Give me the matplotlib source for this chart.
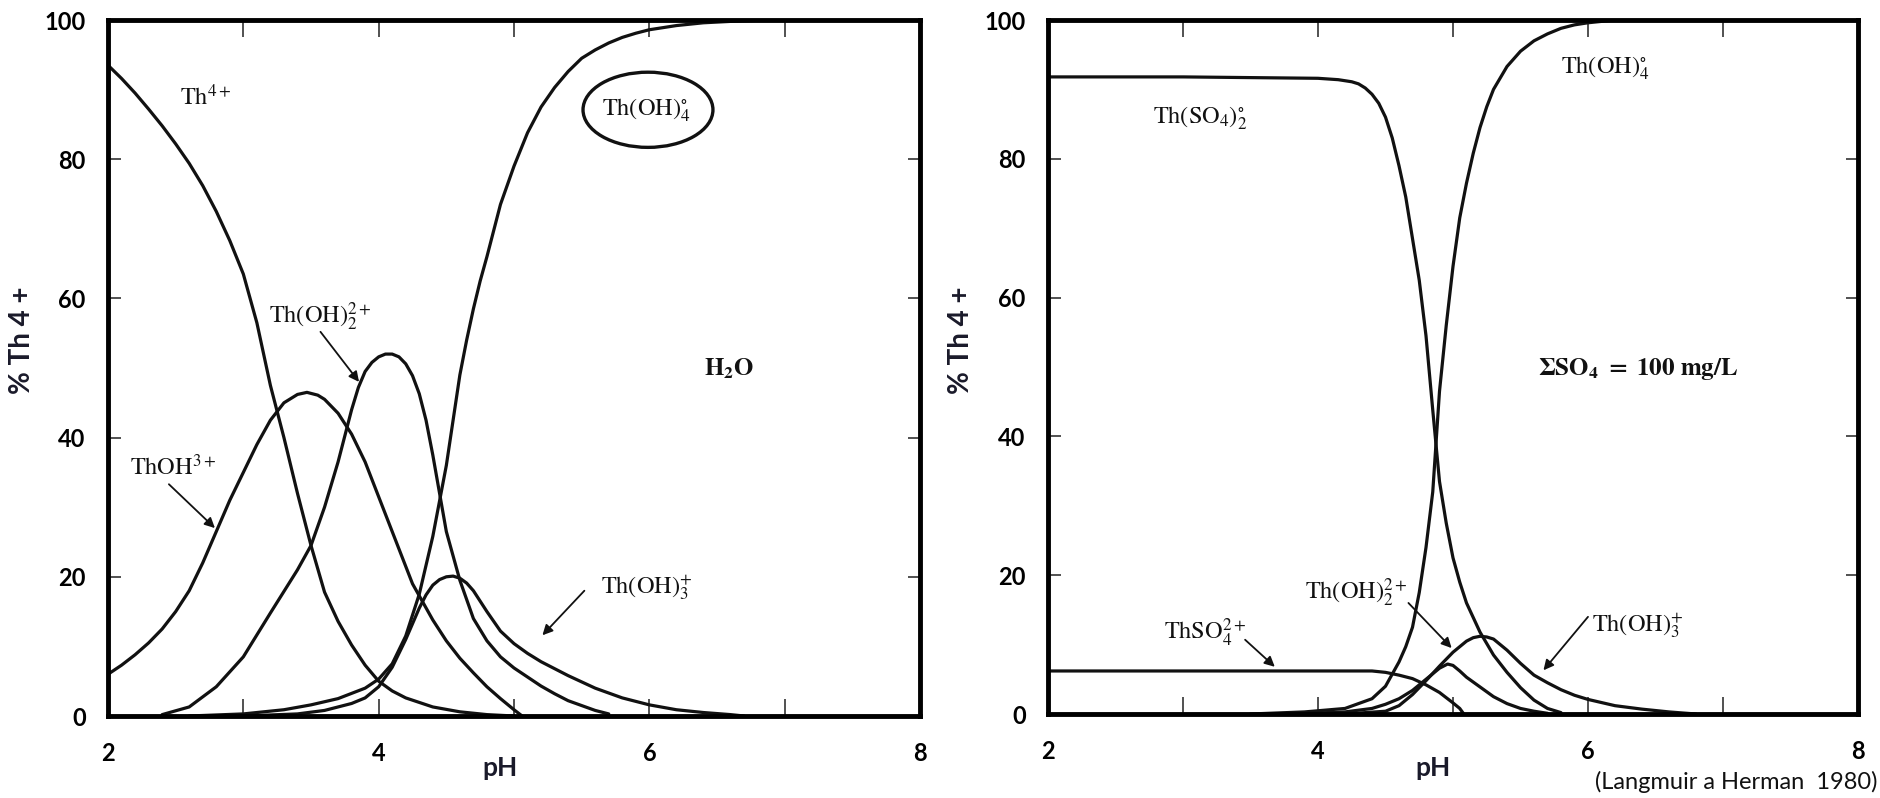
import matplotlib.pyplot as plt
from matplotlib.patches import Ellipse

plt.rcParams['mathtext.fontset'] = 'stix'
plt.rcParams['font.family'] = ['Lato', 'DejaVu Sans']

# ---- left panel: Th species in pure water (pH, % of total Th) ----
ph_th4 = [2.0, 2.1, 2.2, 2.3, 2.4, 2.5, 2.6, 2.7, 2.8, 2.9, 3.0, 3.1, 3.2, 3.3, 3.4, 3.5, 3.6, 3.7, 3.8, 3.9, 4.0, 4.1, 4.2, 4.4, 4.6, 4.8, 5.0]
pct_th4 = [93.5, 91.6, 89.5, 87.2, 84.8, 82.2, 79.4, 76.2, 72.5, 68.3, 63.5, 56.5, 47.5, 40.0, 32.0, 24.5, 17.8, 13.6, 10.2, 7.3, 5.0, 3.6, 2.6, 1.3, 0.6, 0.2, 0.0]

ph_thoh = [2.0, 2.1, 2.2, 2.3, 2.4, 2.5, 2.6, 2.7, 2.8, 2.9, 3.0, 3.1, 3.2, 3.3, 3.4, 3.47, 3.55, 3.6, 3.7, 3.8, 3.9, 4.0, 4.1, 4.25, 4.4, 4.5, 4.6, 4.7, 4.8, 4.9, 5.0, 5.06]
pct_thoh = [6.0, 7.3, 8.8, 10.5, 12.5, 15.0, 18.0, 22.0, 26.5, 31.0, 35.0, 39.0, 42.5, 45.0, 46.2, 46.5, 46.1, 45.5, 43.5, 40.5, 36.5, 31.5, 26.5, 19.0, 13.8, 10.8, 8.3, 6.2, 4.2, 2.5, 0.9, 0.0]

ph_thoh2 = [2.4, 2.6, 2.8, 3.0, 3.2, 3.4, 3.5, 3.6, 3.7, 3.8, 3.85, 3.9, 3.95, 4.0, 4.05, 4.1, 4.15, 4.2, 4.25, 4.3, 4.35, 4.4, 4.45, 4.5, 4.6, 4.7, 4.8, 4.9, 5.0, 5.1, 5.2, 5.3, 5.4, 5.5, 5.6, 5.7]
pct_thoh2 = [0.2, 1.3, 4.2, 8.5, 14.8, 21.0, 24.5, 30.0, 36.5, 44.0, 47.2, 49.5, 50.8, 51.6, 52.0, 52.0, 51.6, 50.6, 48.9, 46.3, 42.5, 37.5, 32.0, 26.5, 19.5, 14.0, 10.8, 8.5, 6.9, 5.6, 4.3, 3.2, 2.2, 1.5, 0.8, 0.3]

ph_thoh3 = [3.0, 3.4, 3.6, 3.8, 3.9, 4.0, 4.1, 4.2, 4.3, 4.35, 4.4, 4.45, 4.5, 4.55, 4.6, 4.65, 4.7, 4.8, 4.9, 5.0, 5.1, 5.2, 5.3, 5.4, 5.5, 5.6, 5.7, 5.8, 5.9, 6.0, 6.2, 6.4, 6.6, 6.7]
pct_thoh3 = [0.0, 0.3, 0.8, 1.8, 2.6, 4.2, 7.0, 11.0, 15.5, 17.4, 18.8, 19.6, 20.0, 20.1, 19.8, 19.1, 18.0, 15.0, 12.2, 10.4, 9.0, 7.8, 6.8, 5.8, 4.9, 4.0, 3.3, 2.6, 2.1, 1.6, 0.9, 0.5, 0.2, 0.0]

ph_thoh4 = [2.6, 3.0, 3.3, 3.5, 3.7, 3.9, 4.0, 4.1, 4.2, 4.3, 4.4, 4.5, 4.55, 4.6, 4.65, 4.7, 4.75, 4.8, 4.9, 5.0, 5.1, 5.2, 5.3, 5.4, 5.5, 5.6, 5.7, 5.8, 5.9, 6.0, 6.2, 6.4, 6.6, 6.8, 7.0, 8.0]
pct_thoh4 = [0.0, 0.3, 0.9, 1.6, 2.5, 4.0, 5.3, 7.5, 11.5, 17.5, 25.8, 36.0, 42.5, 49.0, 54.0, 58.5, 62.5, 66.0, 73.5, 79.0, 83.8, 87.5, 90.3, 92.6, 94.5, 95.7, 96.7, 97.5, 98.1, 98.6, 99.2, 99.6, 99.8, 99.95, 100.0, 100.0]

# ---- right panel: total SO4 = 100 mg/L ----
ph_so42 = [2.0, 3.0, 4.0, 4.15, 4.25, 4.3, 4.35, 4.4, 4.45, 4.5, 4.55, 4.6, 4.65, 4.7, 4.75, 4.8, 4.85, 4.9, 4.95, 5.0, 5.05, 5.1, 5.2, 5.3, 5.4, 5.5, 5.6, 5.7, 5.8]
pct_so42 = [91.8, 91.8, 91.6, 91.4, 91.1, 90.8, 90.2, 89.3, 88.0, 86.0, 83.0, 79.0, 74.5, 68.5, 62.5, 54.5, 43.8, 33.5, 27.5, 22.5, 19.0, 16.0, 11.8, 8.5, 6.0, 3.8, 2.0, 0.8, 0.2]

ph_so4 = [2.0, 3.0, 4.0, 4.4, 4.5, 4.6, 4.7, 4.8, 4.9, 5.0, 5.05, 5.08]
pct_so4 = [6.2, 6.2, 6.2, 6.2, 6.0, 5.6, 5.1, 4.2, 3.1, 1.6, 0.8, 0.0]

ph_r_oh2 = [3.8, 4.2, 4.4, 4.5, 4.6, 4.7, 4.8, 4.9, 4.96, 5.0, 5.05, 5.1, 5.2, 5.3, 5.4, 5.5, 5.6, 5.7]
pct_r_oh2 = [0.0, 0.3, 0.8, 1.4, 2.2, 3.4, 5.0, 6.6, 7.2, 7.0, 6.2, 5.3, 3.9, 2.5, 1.5, 0.8, 0.4, 0.1]

ph_r_oh3 = [4.2, 4.5, 4.6, 4.7, 4.8, 4.9, 5.0, 5.1, 5.15, 5.2, 5.25, 5.3, 5.4, 5.5, 5.6, 5.7, 5.8, 5.9, 6.0, 6.2, 6.4, 6.6, 6.8]
pct_r_oh3 = [0.0, 0.4, 1.2, 2.8, 4.8, 6.9, 8.9, 10.5, 11.0, 11.2, 11.1, 10.8, 9.2, 7.3, 5.6, 4.5, 3.5, 2.7, 2.1, 1.2, 0.7, 0.3, 0.0]

ph_r_oh4 = [3.5, 3.9, 4.2, 4.4, 4.5, 4.6, 4.65, 4.7, 4.75, 4.8, 4.85, 4.9, 4.95, 5.0, 5.05, 5.1, 5.15, 5.2, 5.25, 5.3, 5.4, 5.5, 5.6, 5.7, 5.8, 5.9, 6.0, 6.2, 8.0]
pct_r_oh4 = [0.0, 0.3, 0.8, 2.2, 4.0, 7.5, 9.7, 12.5, 17.5, 24.0, 32.0, 46.5, 56.0, 64.5, 71.5, 76.5, 80.8, 84.5, 87.5, 90.0, 93.3, 95.5, 97.0, 98.0, 98.8, 99.3, 99.6, 100.0, 100.0]

x_major = [2, 4, 6, 8]
x_minor = [3, 5, 7]
y_ticks = [0, 20, 40, 60, 80, 100]

fig = plt.figure(figsize=(18.81, 7.98), dpi=100)
ax1 = fig.add_axes([108/1881, 82/798, 812/1881, 696/798])
ax2 = fig.add_axes([1048/1881, 84/798, 810/1881, 694/798])


def style_axes(ax):
	ax.set_xlim(2, 8)
	ax.set_ylim(0, 100)
	ax.set_xticks(x_major)
	ax.set_xticks(x_minor, minor=True)
	ax.set_yticks(y_ticks)
	for sp in ax.spines.values():
		sp.set_linewidth(3.5)
	ax.tick_params(axis='both', which='both', direction='in', top=True, right=True, width=1.2, color='#333333')
	ax.tick_params(axis='x', which='both', length=12, pad=19)
	ax.tick_params(axis='y', length=9, pad=16)
	for lab in ax.get_xticklabels() + ax.get_yticklabels():
		lab.set_fontsize(17)
		lab.set_fontweight('bold')


curve = dict(color='#111111', lw=2.3, solid_capstyle='round', solid_joinstyle='round')
arrow = dict(arrowstyle='-|>', color='#111111', lw=1.3, mutation_scale=15, shrinkA=0, shrinkB=0)
lbl = dict(fontsize=17.5, color='#111111', ha='center', va='center')

# left panel curves
for xs, ys in [(ph_th4, pct_th4), (ph_thoh, pct_thoh), (ph_thoh2, pct_thoh2),
			   (ph_thoh3, pct_thoh3), (ph_thoh4, pct_thoh4)]:
	ax1.plot(xs, ys, **curve)
style_axes(ax1)

ax1.text(2.72, 89.0, r'$\mathrm{Th}^{4+}$', **lbl)
ax1.add_patch(Ellipse((5.99, 87.1), 0.96, 10.8, fill=False, lw=2.4, color='#111111'))
ax1.text(5.98, 87.0, r'$\mathrm{Th(OH)}_4^{\circ}$', **lbl)
ax1.text(3.57, 57.3, r'$\mathrm{Th(OH)}_2^{2+}$', **lbl)
ax1.annotate('', xy=(3.855, 48.0), xytext=(3.57, 55.2), arrowprops=arrow)
ax1.text(2.48, 35.8, r'$\mathrm{ThOH}^{3+}$', **lbl)
ax1.annotate('', xy=(2.79, 27.0), xytext=(2.45, 33.3), arrowprops=arrow)
ax1.text(5.98, 18.4, r'$\mathrm{Th(OH)}_3^{+}$', **lbl)
ax1.annotate('', xy=(5.21, 11.6), xytext=(5.52, 18.0), arrowprops=arrow)
ax1.text(6.59, 49.9, r'$\mathbf{H_2O}$', fontsize=18, color='#111111', ha='center', va='center')

# right panel curves
for xs, ys in [(ph_so42, pct_so42), (ph_so4, pct_so4), (ph_r_oh2, pct_r_oh2),
			   (ph_r_oh3, pct_r_oh3), (ph_r_oh4, pct_r_oh4)]:
	ax2.plot(xs, ys, **curve)
style_axes(ax2)

ax2.text(3.13, 85.9, r'$\mathrm{Th(SO_4)}_2^{\circ}$', **lbl)
ax2.text(6.13, 93.1, r'$\mathrm{Th(OH)}_4^{\circ}$', **lbl)
ax2.text(6.37, 49.7, r'$\mathbf{\Sigma SO_4\ =\ 100\ mg/L}$', fontsize=18, color='#111111', ha='center', va='center')
ax2.text(4.28, 17.4, r'$\mathrm{Th(OH)}_2^{2+}$', **lbl)
ax2.annotate('', xy=(4.99, 9.5), xytext=(4.67, 16.0), arrowprops=arrow)
ax2.text(3.16, 11.7, r'$\mathrm{ThSO}_4^{2+}$', **lbl)
ax2.annotate('', xy=(3.68, 6.8), xytext=(3.46, 10.7), arrowprops=arrow)
ax2.text(6.37, 12.8, r'$\mathrm{Th(OH)}_3^{+}$', **lbl)
ax2.annotate('', xy=(5.67, 6.3), xytext=(6.0, 14.0), arrowprops=arrow)

# axis titles placed like the overlaid labels of the source slide
for x in [22, 961]:
	fig.text(x/1881, 1 - 340/798, '% Th 4 +', rotation=90, ha='center', va='center',
			 fontsize=20, fontweight='bold', color='#1a1a2a')
for x in [500, 1433]:
	fig.text(x/1881, 1 - 768/798, 'pH', ha='center', va='center',
			 fontsize=19, fontweight='bold', color='#1a1a2a')
fig.text(1878/1881, 1 - 782/798, '(Langmuir a Herman  1980)', ha='right', va='center',
		 fontsize=17, color='#111111')

fig.savefig('out.png', dpi=100)
